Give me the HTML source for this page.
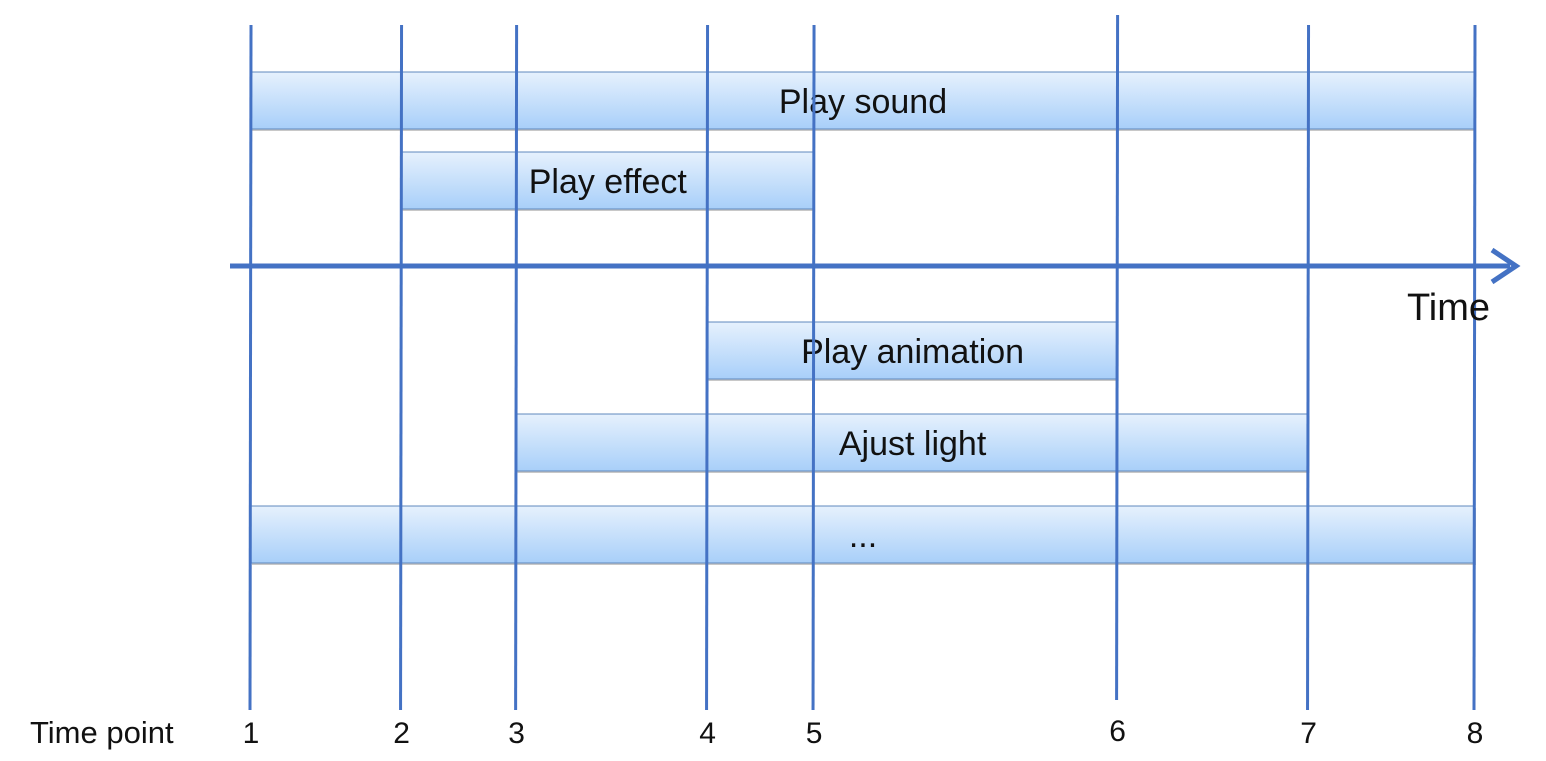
<!DOCTYPE html>
<html><head><meta charset="utf-8"><style>
body{margin:0;background:#fff;}
svg{display:block;font-family:"Liberation Sans",sans-serif;}
</style></head><body>
<svg id="c" width="1546" height="761">
<defs>
<linearGradient id="g" x1="0" y1="0" x2="0" y2="1">
<stop offset="0" stop-color="#e6f1fd"/><stop offset="1" stop-color="#a8cff9"/>
</linearGradient>
</defs>
</svg>
<script>
const pointLabels=["1","2","3","4","5","6","7","8"];
const pointTimes=[0,12.3,21.7,37.3,46.0,70.8,86.4,100];
const taskNames=["Play sound","Play effect","Play animation","Ajust light","..."];
const taskStart=[1,2,4,3,1];
const taskEnd=[8,5,6,7,8];
const taskRow=[0,1,2,3,4];
const svg=document.getElementById('c');
const NS='http://www.w3.org/2000/svg';
const x=t=>251+t*(1475-251)/100;
const xp=p=>x(pointTimes[p-1]);
const rowY=[72,152,322,414,506];
function mk(tag,a){const e=document.createElementNS(NS,tag);for(const k in a)e.setAttribute(k,a[k]);svg.appendChild(e);return e;}
taskNames.forEach((n,i)=>{
  const x0=xp(taskStart[i]),x1=xp(taskEnd[i]),y=rowY[taskRow[i]];
  const s=mk('rect',{x:x0+1,y:y+2,width:x1-x0,height:57,fill:'#c8c8c8'});
  
  
  const r=mk('rect',{x:x0,y:y,width:x1-x0,height:57,fill:'url(#g)',stroke:'#5f88bd','stroke-width':1});
  
  
  const t=mk('text',{x:(x0+x1)/2,y:y+41,'text-anchor':'middle','font-size':34,fill:'#111'});
  t.textContent=n;
  
  
});
pointLabels.forEach((l,i)=>{
  const xx=x(pointTimes[i]);
  const top=(i==5)?15:25, bot=(i==5)?700:710;
  const ln=mk('line',{x1:xx,y1:top,x2:xx-1,y2:bot,stroke:'#4472c4','stroke-width':3});
  
  
  const t=mk('text',{x:xx,y:(i==5)?741:743,'text-anchor':'middle','font-size':30,fill:'#111'});
  t.textContent=l;
  
  
});
const ax=mk('line',{x1:230,y1:266,x2:1510,y2:266,stroke:'#4472c4','stroke-width':5});


const ar=mk('polyline',{points:'1492,250 1516,266 1492,282',fill:'none',stroke:'#4472c4','stroke-width':5});


const tt=mk('text',{x:1407,y:320,'font-size':38,fill:'#111'});
tt.textContent='Time';


const tp=mk('text',{x:30,y:743,'font-size':31,fill:'#111'});
tp.textContent='Time point';


</script>
</body></html>
